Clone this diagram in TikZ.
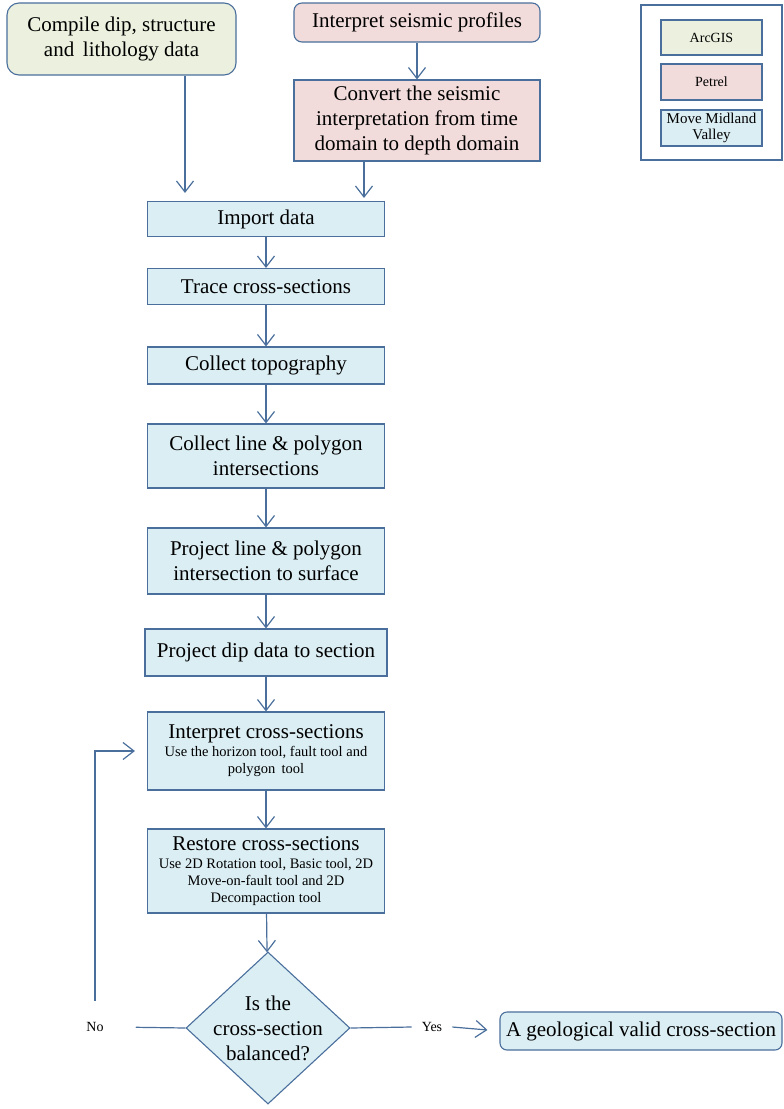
\documentclass[tikz,border=0pt]{standalone}
\usepackage{fontspec}
\setmainfont{Liberation Serif}
\usetikzlibrary{arrows.meta,shapes.geometric}
\definecolor{edgeblue}{HTML}{4A6F9C}
\definecolor{gisgreen}{HTML}{EBF1DE}
\definecolor{petrelpink}{HTML}{F2DCDB}
\definecolor{moveblue}{HTML}{DBEEF4}
\newcommand{\subtxt}{\fontsize{14.5}{17}\selectfont}
\tikzset{
  box/.style={draw=edgeblue, line width=1.1pt, fill=moveblue, align=center,
    inner sep=0pt, minimum width=237pt, font=\fontsize{21}{25}\selectfont},
  legbox/.style={draw=edgeblue, line width=1.1pt, align=center, inner sep=0pt,
    minimum width=101pt, minimum height=35pt, font=\fontsize{14}{15}\selectfont},
  conn/.style={draw=edgeblue, line width=1.2pt},
  arr/.style={conn, -{Straight Barb[length=11pt,width=17pt]}},
  small/.style={font=\fontsize{14}{17}\selectfont}
}
\begin{document}
\begin{tikzpicture}[x=1pt, y=-1pt]
  \useasboundingbox (0,0) rectangle (784,1109);
  % inputs
  \node[box, fill=gisgreen, rounded corners=12pt, minimum width=229pt, minimum height=72pt]
    (compile) at (121.5,39) {Compile dip, structure\\and\, lithology data};
  \node[box, fill=petrelpink, rounded corners=8pt, minimum width=246pt, minimum height=39pt]
    (seis) at (417,22.5) {Interpret seismic profiles};
  \node[box, fill=petrelpink, minimum width=246pt, minimum height=81pt]
    (convert) at (417,120.5) {Convert the seismic\\interpretation from time\\domain to depth domain};
  % main column
  \node[box, minimum height=35pt] (import) at (266,219) {Import data};
  \node[box, minimum height=36pt] (trace) at (266,286.5) {Trace cross-sections};
  \node[box, minimum height=37pt] (topo) at (266,365.5) {Collect topography};
  \node[box, minimum height=64pt] (collect) at (266,456) {Collect line \& polygon\\intersections};
  \node[box, minimum height=66pt] (project) at (266,561) {Project line \& polygon\\intersection to surface};
  \node[box, minimum width=242pt, minimum height=47pt] (dip) at (266,652.5) {Project dip data to section};
  \node[box, minimum height=78pt] (interp) at (266,751)
    {Interpret cross-sections\\[-7pt]\subtxt Use the horizon tool, fault tool and\\[-8pt]\subtxt polygon\, tool};
  \node[box, minimum height=84pt] (restore) at (266,871)
    {Restore cross-sections\\[-7pt]\subtxt Use 2D Rotation tool, Basic tool, 2D\\[-8pt]\subtxt Move-on-fault tool and 2D\\[-8pt]\subtxt Decompaction tool};
  \node[box, shape=diamond, minimum width=164pt, minimum height=152pt,
    label={[align=center, font=\fontsize{21}{25}\selectfont]center:Is the\\cross-section\\balanced?}]
    (bal) at (268,1028) {};
  \node[box, rounded corners=7pt, minimum width=282pt, minimum height=38pt]
    (valid) at (641,1031) {A geological valid cross-section};
  \node[small, inner xsep=12pt] (no) at (95,1027) {No};
  \node[small, inner xsep=10pt] (yes) at (432,1027) {Yes};
  % legend
  \node[draw=edgeblue, line width=1.1pt, minimum width=141pt, minimum height=155pt] (legend) at (711.5,82.5) {};
  \node[legbox, fill=gisgreen] (arcgis) at (711.5,37.5) {ArcGIS};
  \node[legbox, fill=petrelpink, minimum height=36pt] (petrel) at (711.5,82) {Petrel};
  \node[legbox, fill=moveblue, minimum height=36pt, font=\fontsize{15}{16}\selectfont]
    (move) at (711.5,128) {Move Midland\\Valley};
  % connectors
  \draw[arr] (seis) -- (convert);
  \draw[arr, shorten >=8pt] ([xshift=63.5pt]compile.south) -- ([xshift=63.5pt]compile.south |- import.north);
  \draw[arr, shorten >=3pt] ([xshift=-53pt]convert.south) -- ([xshift=-53pt]convert.south |- import.north);
  \draw[arr] (import) -- (trace);
  \draw[arr] (trace) -- (topo);
  \draw[arr] (topo) -- (collect);
  \draw[arr] (collect) -- (project);
  \draw[arr] (project) -- (dip);
  \draw[arr] (dip) -- (interp);
  \draw[arr] (interp) -- (restore);
  \draw[arr] (restore) -- (bal);
  \draw[conn, shorten >=20pt] (bal.west) -- (no.east);
  \draw[arr, shorten <=18pt, shorten >=12pt] (no.north) |- (interp.west);
  \draw[conn] (bal.east) -- (yes.west);
  \draw[arr, shorten >=12pt] (yes.east) -- (valid.west);
\end{tikzpicture}
\end{document}
